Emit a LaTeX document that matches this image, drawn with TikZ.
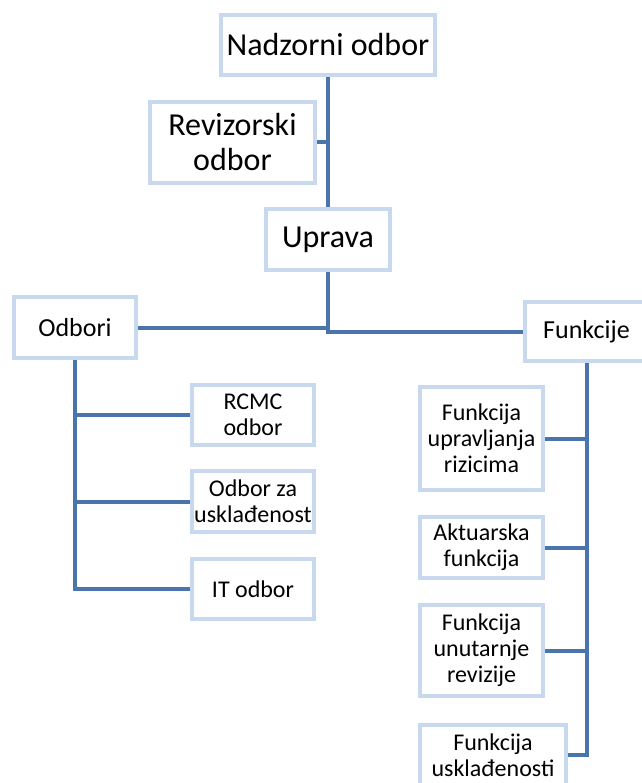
\documentclass[tikz,border=0pt]{standalone}
\usepackage{fontspec}
\setmainfont{Carlito}
\usepackage{tikz}
\definecolor{okvir}{RGB}{200,216,238}
\definecolor{linija}{RGB}{74,116,172}
\newcommand{\velika}{\fontsize{32}{35}\selectfont}
\newcommand{\srednja}{\fontsize{26}{29}\selectfont}
\newcommand{\mala}{\fontsize{24}{26}\selectfont}

\begin{document}
\begin{tikzpicture}[x=1pt,y=-1pt,
  kutija/.style={draw=okvir, line width=4pt, fill=white, align=center, inner sep=0pt},
  veza/.style={draw=linija, line width=4pt}]

\useasboundingbox (0,0) rectangle (641,783);

% Vrh
\node[kutija, font=\velika, minimum width=214pt, minimum height=60pt] (NO) at (328,45) {Nadzorni odbor};
\node[kutija, font=\velika, minimum width=165pt, minimum height=81pt] (RO) at (232.5,142.5) {Revizorski\\odbor};
\node[kutija, font=\velika, minimum width=124pt, minimum height=61pt] (U) at (328,239.5) {Uprava};

% Odbori
\node[kutija, font=\srednja, minimum width=122pt, minimum height=61pt] (OD) at (75,327.5) {Odbori};
\node[kutija, font=\mala, minimum width=122pt, minimum height=60pt] (RC) at (253,415) {RCMC\\odbor};
\node[kutija, font=\mala, minimum width=122pt, minimum height=61pt] (OU) at (253,501.5) {Odbor za\\usklađenost};
\node[kutija, font=\mala, minimum width=122pt, minimum height=60pt] (IT) at (253,589) {IT odbor};

% Funkcije
\node[kutija, font=\srednja, minimum width=123pt, minimum height=59pt] (FK) at (586.5,331.5) {Funkcije};
\node[kutija, font=\mala, minimum width=123pt, minimum height=103pt] (FUR) at (481.5,438.5) {Funkcija\\upravljanja\\rizicima};
\node[kutija, font=\mala, minimum width=123pt, minimum height=61pt] (AF) at (481.5,547.5) {Aktuarska\\funkcija};
\node[kutija, font=\mala, minimum width=123pt, minimum height=91pt] (FUN) at (481.5,650.5) {Funkcija\\unutarnje\\revizije};
\node[kutija, font=\mala, minimum width=146pt, minimum height=61pt] (FUS) at (493,755) {Funkcija\\usklađenosti};

% veze
\draw[veza] (NO.south) -- (U.north);
\draw[veza] (RO.east) -- (RO.east -| NO.south);
\draw[veza] (U.south) |- (OD.east);
\draw[veza] (U.south) |- (FK.west);
\foreach \n in {RC,OU,IT}
  \draw[veza] (OD.south) |- (\n.west);
\foreach \n in {FUR,AF,FUN,FUS}
  \draw[veza] (FK.south) |- (\n.east);

\end{tikzpicture}
\end{document}
